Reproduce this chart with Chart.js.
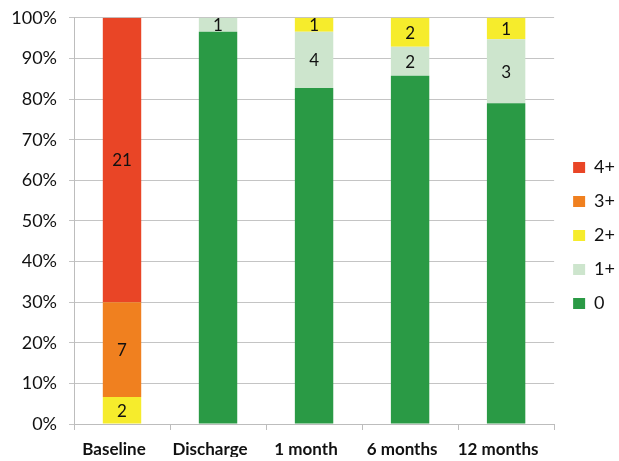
<!DOCTYPE html>
<html>
<head>
<meta charset="utf-8">
<script src="https://cdn.jsdelivr.net/npm/chart.js@4/dist/chart.umd.min.js"></script>
<style>
  html, body { margin: 0; padding: 0; background: #ffffff; }
</style>
</head>
<body>
<canvas id="c" width="619" height="461"></canvas>
<script>
// Regurgitation grade counts per follow-up point
const categories = ['Baseline', 'Discharge', '1 month', '6 months', '12 months'];
const grade4 = [21, 0, 0, 0, 0];
const grade3 = [7, 0, 0, 0, 0];
const grade2 = [2, 0, 1, 2, 1];
const grade1 = [0, 1, 4, 2, 3];
const grade0 = [0, 28, 24, 24, 15];
const gradeNames = ['0', '1+', '2+', '3+', '4+'];
const gradeColors = ['#2a9a45', '#cde5cd', '#f6ec2c', '#f0801f', '#e94526'];
const yTickStep = 10;

const countsByGrade = [grade0, grade1, grade2, grade3, grade4];
const totals = categories.map((_, i) => countsByGrade.reduce((s, arr) => s + arr[i], 0));

const datasets = countsByGrade.map((counts, g) => ({
  label: gradeNames[g],
  data: counts.map((v, i) => v / totals[i] * 100),
  counts: counts,
  showCount: g > 0,
  backgroundColor: gradeColors[g],
  borderWidth: 0,
  barPercentage: 0.4,
  categoryPercentage: 1.0
}));

const FONT = 'Lato, "Open Sans", sans-serif';

// Writes the patient count in the middle of each segment
const countLabels = {
  id: 'countLabels',
  afterDatasetsDraw(chart) {
    const ctx = chart.ctx;
    ctx.save();
    ctx.font = '17px ' + FONT;
    ctx.fillStyle = '#111111';
    ctx.textAlign = 'center';
    ctx.textBaseline = 'middle';
    chart.data.datasets.forEach((ds, di) => {
      if (!ds.showCount) return;
      const meta = chart.getDatasetMeta(di);
      meta.data.forEach((bar, i) => {
        const n = ds.counts[i];
        if (!n) return;
        ctx.fillText(String(n), bar.x, (bar.y + bar.base) / 2 + 1);
      });
    });
    ctx.restore();
  }
};

// Shifts the legend block slightly right and down
const legendNudge = {
  id: 'legendNudge',
  afterLayout(chart) {
    const lg = chart.legend;
    if (lg) {
      lg.left += 3;
      lg.right += 3;
      lg.top += 7;
      lg.bottom += 7;
    }
  }
};

new Chart(document.getElementById('c'), {
  type: 'bar',
  data: { labels: categories, datasets: datasets },
  plugins: [countLabels, legendNudge],
  options: {
    responsive: false,
    animation: false,
    devicePixelRatio: 1,
    layout: { padding: { top: 0, right: -3, bottom: 4, left: 0 } },
    plugins: {
      tooltip: { enabled: false },
      legend: {
        position: 'right',
        reverse: true,
        labels: {
          boxWidth: 12,
          boxHeight: 11,
          padding: 16,
          color: '#111111',
          font: { family: FONT, size: 18 }
        }
      }
    },
    scales: {
      x: {
        stacked: true,
        grid: {
          display: true,
          drawOnChartArea: false,
          drawTicks: true,
          tickLength: 6,
          color: '#bdbdbd',
          offset: true
        },
        border: { color: '#bdbdbd' },
        ticks: {
          color: '#111111',
          padding: 9,
          labelOffset: -8,
          maxRotation: 0,
          autoSkip: false,
          font: { family: FONT, size: 17, weight: 'bold' }
        },
        afterFit(scale) { scale.height = 33; }
      },
      y: {
        stacked: true,
        min: 0,
        max: 100,
        grid: {
          color: '#c4c4c4',
          tickLength: 5
        },
        border: { color: '#bdbdbd' },
        ticks: {
          stepSize: yTickStep,
          color: '#111111',
          padding: 12,
          font: { family: FONT, size: 18, lineHeight: 0.65 },
          callback: v => v + '%'
        },
        afterFit(scale) { scale.width = 74; }
      }
    }
  }
});
</script>
</body>
</html>
